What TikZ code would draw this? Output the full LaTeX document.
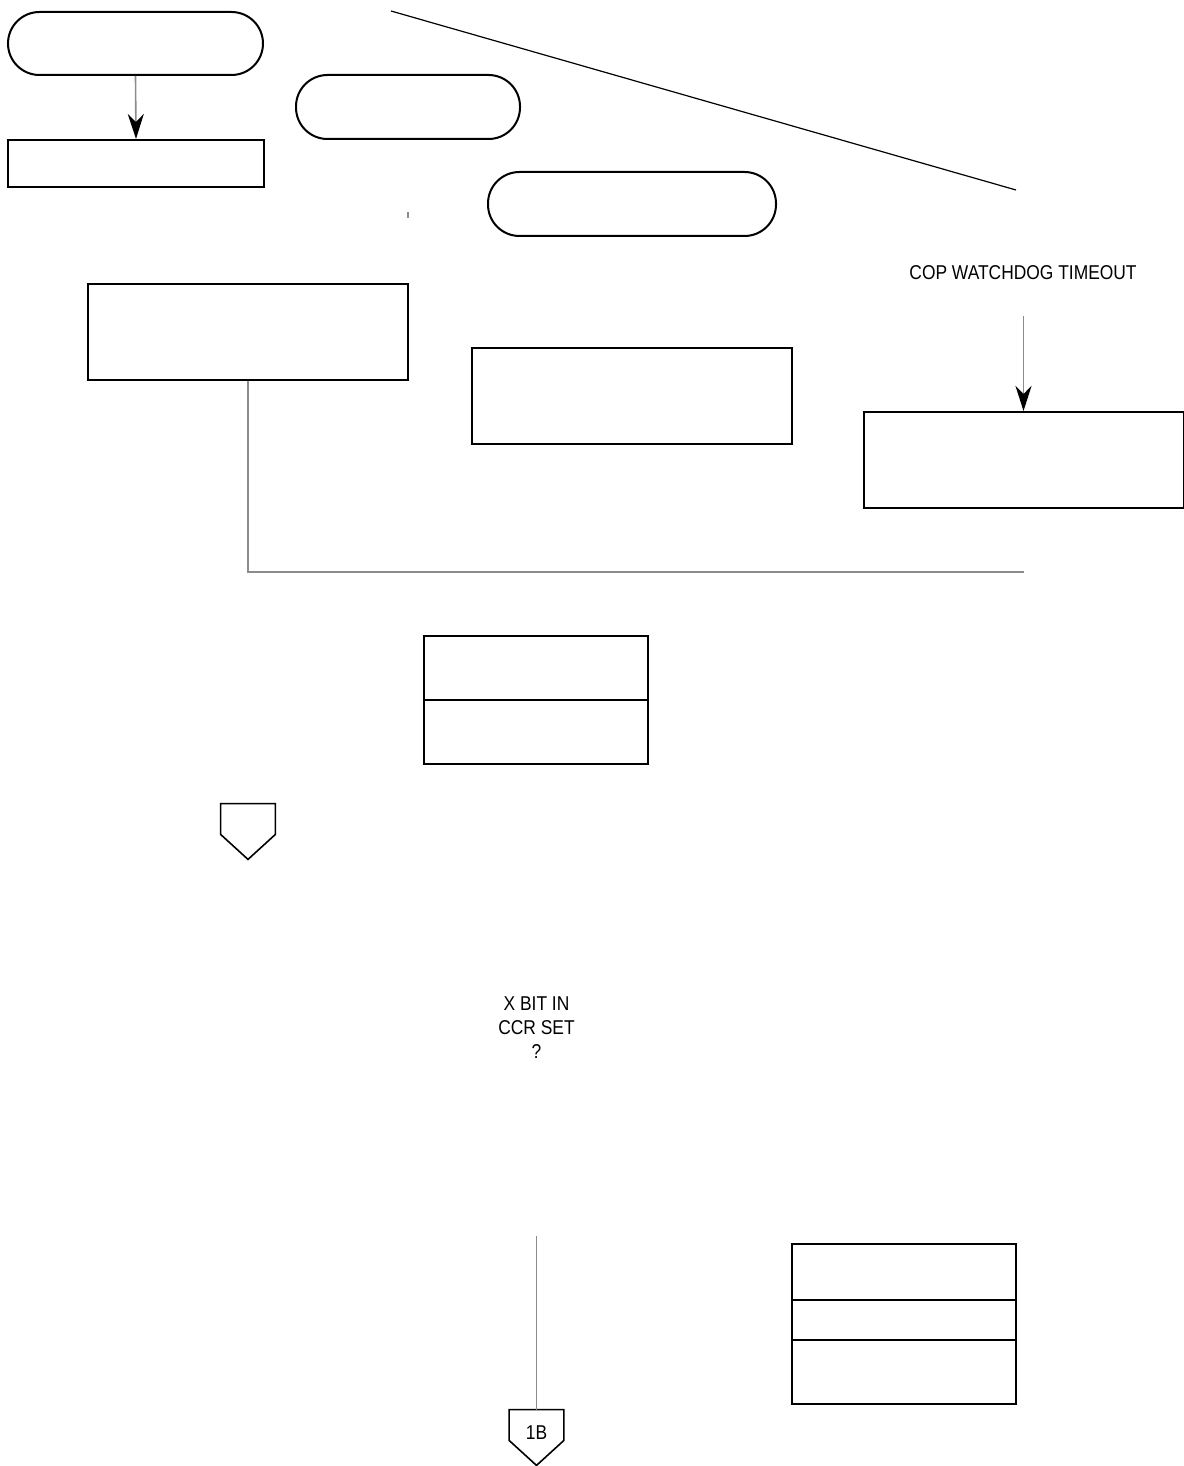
\documentclass[tikz,border=0pt]{standalone}
\usepackage{fontspec}
\setmainfont{Liberation Sans}[FakeStretch=0.87]
\usetikzlibrary{arrows.meta,calc}
\begin{document}
\begin{tikzpicture}[x=0.5pt,y=-0.5pt,
  box/.style={draw=black,line width=1pt,rectangle,inner sep=0pt},
  term/.style={box,rounded corners=15.75pt},
  conn/.style={draw=gray!90,line width=0.8pt},
  arr/.style={conn,-{Stealth[black,length=12.5pt,width=8pt,inset=4pt]}},
  lbl/.style={font=\fontsize{10}{12}\selectfont,inner sep=0pt,align=center}]
\useasboundingbox (0,0) rectangle (1183,1466);
\fill[white] (0,0) rectangle (1183,1466);
% terminators
\node[term,minimum width=127.5pt,minimum height=31.5pt] (t1) at (135.5,43.5) {};
\node[term,minimum width=112pt,minimum height=32pt] (t2) at (408,107) {};
\node[term,minimum width=144pt,minimum height=32pt] (t3) at (632,204) {};
% process boxes
\node[box,minimum width=128pt,minimum height=23.5pt] (b1) at (136,163.5) {};
\node[box,minimum width=160pt,minimum height=48pt] (b2) at (248,332) {};
\node[box,minimum width=160pt,minimum height=48pt] (b3) at (632,396) {};
\node[box,minimum width=160pt,minimum height=48pt] (b4) at (1024,460) {};
% compartment boxes
\node[box,minimum width=112pt,minimum height=32pt] (b5a) at (536,668) {};
\node[box,minimum width=112pt,minimum height=32pt] (b5b) at (536,732) {};
\node[box,minimum width=112pt,minimum height=28pt] (b6a) at (904,1272) {};
\node[box,minimum width=112pt,minimum height=20pt] (b6b) at (904,1320) {};
\node[box,minimum width=112pt,minimum height=32pt] (b6c) at (904,1372) {};
% off-page connectors
\node[minimum width=27pt,minimum height=15pt,inner sep=0pt] (c1) at (248,819) {};
\draw[line width=0.8pt] (c1.north west) -- (c1.south west) -- ($(c1.south)+(0,25)$) -- (c1.south east) -- (c1.north east) -- cycle;
\node[minimum width=27pt,minimum height=15pt,inner sep=0pt] (c2) at (536.5,1425) {};
\draw[line width=0.8pt] (c2.north west) -- (c2.south west) -- ($(c2.south)+(0,25)$) -- (c2.south east) -- (c2.north east) -- cycle;
\node[lbl] (c2t) at (536.5,1433) {1B};
% texts
\node[lbl] (cop) at (1023,273) {COP WATCHDOG TIMEOUT};
\node[lbl] (xbit) at (536.5,1028) {X BIT IN\\CCR SET\\?};
% connectors
\draw[arr] (t1.south) -- (b1.north);
\coordinate (copa) at (1023.5,316);
\draw[arr] (copa) -- (b4.north -| copa);
\coordinate (merge) at (1024,572);
\draw[conn] (b2.south) |- (merge);
\coordinate (l1b) at (536.5,1236);
\draw[conn] (l1b) -- (c2.north);
\coordinate (d1) at (391,11);
\coordinate (d2) at (1016,190);
\draw[line width=0.6pt] (d1) -- (d2);
\coordinate (k1) at (408,212);
\coordinate (k2) at (408,218);
\draw[conn] (k1) -- (k2);
\end{tikzpicture}
\end{document}
